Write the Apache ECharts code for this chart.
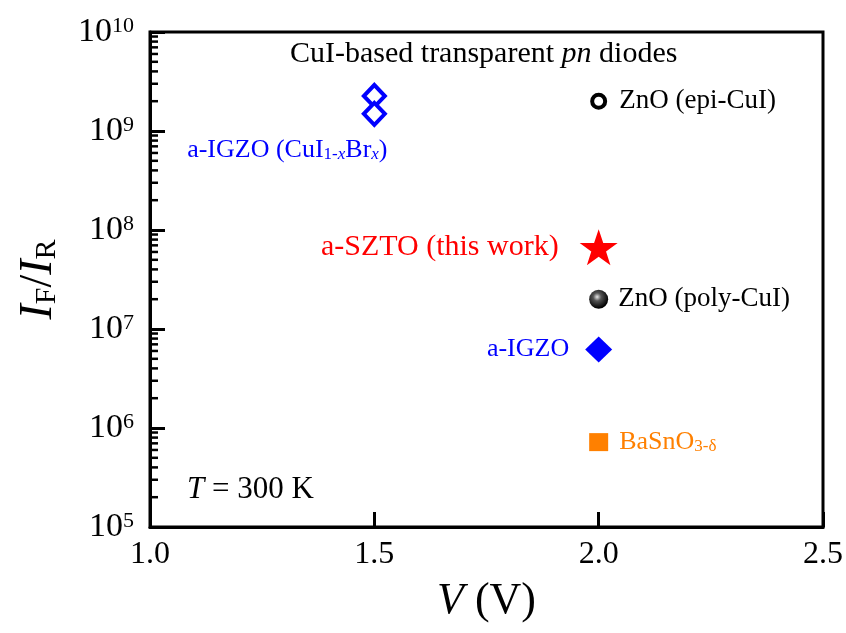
<!DOCTYPE html>
<html><head><meta charset="utf-8">
<script src="https://cdn.jsdelivr.net/npm/echarts@6/dist/echarts.min.js"></script>
<style>html,body{margin:0;padding:0;background:#fff}#c{width:846px;height:633px}</style>
</head><body><div id="c"></div>
<script>
// ---- data ----
const xTicks = [1.0, 1.5, 2.0, 2.5];
const yExponents = [5, 6, 7, 8, 9, 10];
const minorMultipliers = [2, 3, 4, 5, 6, 7, 8, 9];

const igzoBrV = [1.5, 1.5];
const igzoBrRatio = [2.26e9, 1.49e9];
const znoEpiV = [2.0];
const znoEpiRatio = [2.0e9];
const sztoV = [2.0];
const sztoRatio = [6.7e7];
const znoPolyV = [2.0];
const znoPolyRatio = [2.0e7];
const igzoV = [2.0];
const igzoRatio = [6.2e6];
const basnoV = [2.0];
const basnoRatio = [7.2e5];

const FONT = 'Liberation Serif';
const pairs = (xs, ys) => xs.map((x, i) => [x, ys[i]]);

const minorVals = [];
yExponents.slice(0, -1).forEach(e => minorMultipliers.forEach(m => minorVals.push(m * Math.pow(10, e))));

const starPath = 'path://M50,0 L61.8,35.1 L98.9,35.1 L69,56.8 L80.3,91.9 L50,70.2 L19.7,91.9 L31,56.8 L1.1,35.1 L38.2,35.1 Z';

const chart = echarts.init(document.getElementById('c'), null, {renderer: 'canvas'});
chart.setOption({
  animation: false,
  backgroundColor: '#fff',
  grid: {left: 150, right: 22, top: 32, bottom: 106, show: true, borderColor: '#000', borderWidth: 3, backgroundColor: 'transparent'},
  xAxis: {
    type: 'value', min: xTicks[0], max: xTicks[xTicks.length - 1], interval: 0.5,
    axisLine: {lineStyle: {color: '#000', width: 3}},
    axisTick: {inside: true, length: 15, lineStyle: {color: '#000', width: 3}},
    splitLine: {show: false},
    axisLabel: {formatter: v => v.toFixed(1), fontFamily: FONT, fontSize: 32, color: '#000', margin: 12},
    name: '{i|V}{n| (V)}', nameLocation: 'middle', nameGap: 52,
    nameTextStyle: {rich: {
      i: {fontFamily: FONT, fontStyle: 'italic', fontSize: 44, color: '#000'},
      n: {fontFamily: FONT, fontSize: 44, color: '#000'}
    }}
  },
  yAxis: {
    type: 'log', logBase: 10, min: Math.pow(10, yExponents[0]), max: Math.pow(10, yExponents[yExponents.length - 1]),
    axisLine: {lineStyle: {color: '#000', width: 3}},
    axisTick: {inside: true, length: 15, lineStyle: {color: '#000', width: 3}},
    minorTick: {show: false},
    splitLine: {show: false},
    axisLabel: {
      margin: 16,
      formatter: v => '{b|10}{s|' + Math.round(Math.log10(v)) + '}',
      rich: {
        b: {fontFamily: FONT, fontSize: 34, color: '#000'},
        s: {fontFamily: FONT, fontSize: 22, color: '#000', verticalAlign: 'top'}
      }
    },
    name: '{i|I}{sb|F}{n|/}{i|I}{sb|R}', nameLocation: 'middle', nameGap: 88, nameRotate: 90,
    nameTextStyle: {rich: {
      i: {fontFamily: FONT, fontStyle: 'italic', fontSize: 46, color: '#000'},
      n: {fontFamily: FONT, fontSize: 46, color: '#000'},
      sb: {fontFamily: FONT, fontSize: 30, color: '#000', verticalAlign: 'bottom', padding: [10, 0, 0, 0]}
    }}
  },
  graphic: [
    {type: 'text', left: 290, top: 39, style: {
      text: '{n|CuI-based transparent }{i|pn}{n| diodes}',
      rich: {n: {fontFamily: FONT, fontSize: 30, fill: '#000'}, i: {fontFamily: FONT, fontSize: 30, fontStyle: 'italic', fill: '#000'}}
    }},
    {type: 'text', left: 187, top: 474, style: {
      text: '{i|T}{n| = 300 K}',
      rich: {n: {fontFamily: FONT, fontSize: 31, fill: '#000'}, i: {fontFamily: FONT, fontSize: 31, fontStyle: 'italic', fill: '#000'}}
    }}
  ],
  series: [
    {
      type: 'custom', silent: true, z: 5, clip: false,
      data: minorVals.map(v => [xTicks[0], v]),
      renderItem: (params, api) => {
        const p = api.coord([api.value(0), api.value(1)]);
        return {type: 'line', shape: {x1: p[0], y1: p[1], x2: p[0] + 8, y2: p[1]}, style: {stroke: '#000', lineWidth: 2.5}};
      }
    },
    {
      name: 'a-IGZO (CuI1-xBrx)', type: 'scatter', data: pairs(igzoBrV, igzoBrRatio),
      symbol: 'diamond', symbolSize: [21, 22],
      itemStyle: {color: '#fff', borderColor: '#0000ff', borderWidth: 4, opacity: 1},
      label: {show: true, formatter: p => p.dataIndex === 1 ? '{t|a-IGZO (CuI}{s|1-}{si|x}{t|Br}{si|x}{t|)}' : '',
        position: 'bottom', offset: [-87, 5],
        rich: {
          t: {fontFamily: FONT, fontSize: 26, color: '#0000ff'},
          s: {fontFamily: FONT, fontSize: 17, color: '#0000ff', verticalAlign: 'bottom', padding: [6, 0, 0, 0]},
          si: {fontFamily: FONT, fontSize: 17, fontStyle: 'italic', color: '#0000ff', verticalAlign: 'bottom', padding: [6, 0, 0, 0]}
        }}
    },
    {
      name: 'ZnO (epi-CuI)', type: 'scatter', data: pairs(znoEpiV, znoEpiRatio),
      symbol: 'circle', symbolSize: 13,
      itemStyle: {color: '#fff', borderColor: '#000', borderWidth: 4, opacity: 1},
      label: {show: true, formatter: 'ZnO (epi-CuI)', position: 'right', distance: 12,
        fontFamily: FONT, fontSize: 27, color: '#000'}
    },
    {
      name: 'a-SZTO (this work)', type: 'scatter', data: pairs(sztoV, sztoRatio),
      symbol: starPath, symbolSize: [38, 36],
      itemStyle: {color: '#ff0000', opacity: 1},
      label: {show: true, formatter: 'a-SZTO (this work)', position: 'left', distance: 21,
        fontFamily: FONT, fontSize: 30, color: '#ff0000'}
    },
    {
      name: 'ZnO (poly-CuI)', type: 'scatter', data: pairs(znoPolyV, znoPolyRatio),
      symbol: 'circle', symbolSize: 19,
      itemStyle: {opacity: 1, color: {type: 'radial', x: 0.42, y: 0.38, r: 0.6, colorStops: [
        {offset: 0, color: '#e8e8e8'}, {offset: 0.35, color: '#555'}, {offset: 1, color: '#000'}]}},
      label: {show: true, formatter: 'ZnO (poly-CuI)', position: 'right', distance: 10,
        fontFamily: FONT, fontSize: 27, color: '#000'}
    },
    {
      name: 'a-IGZO', type: 'scatter', data: pairs(igzoV, igzoRatio),
      symbol: 'diamond', symbolSize: [27, 26],
      itemStyle: {color: '#0000ff', opacity: 1},
      label: {show: true, formatter: 'a-IGZO', position: 'left', distance: 16,
        fontFamily: FONT, fontSize: 26, color: '#0000ff'}
    },
    {
      name: 'BaSnO3-δ', type: 'scatter', data: pairs(basnoV, basnoRatio),
      symbol: 'rect', symbolSize: [19, 18],
      itemStyle: {color: '#ff8000', opacity: 1},
      label: {show: true, formatter: '{t|BaSnO}{s|3-δ}', position: 'right', distance: 11,
        rich: {
          t: {fontFamily: FONT, fontSize: 26, color: '#ff8000'},
          s: {fontFamily: FONT, fontSize: 17, color: '#ff8000', verticalAlign: 'bottom', padding: [6, 0, 0, 0]}
        }}
    }
  ]
});
</script></body></html>
